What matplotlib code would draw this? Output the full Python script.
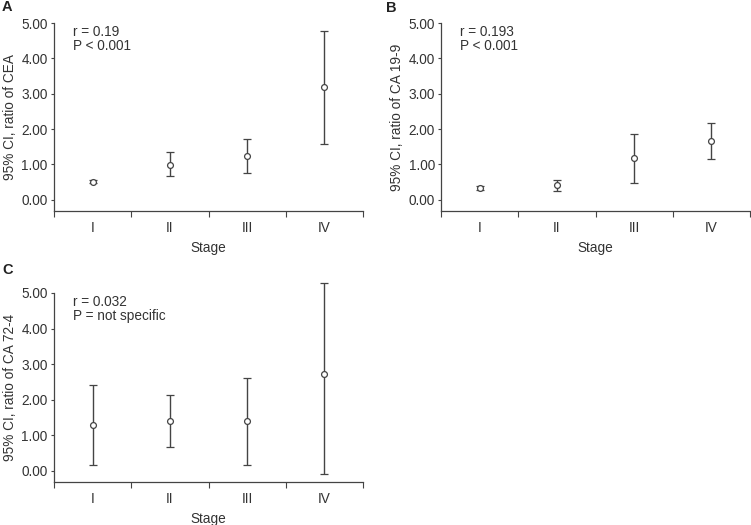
import numpy as np
import matplotlib
matplotlib.use("Agg")
import matplotlib.pyplot as plt

plt.rcParams["font.family"] = ["Liberation Sans", "DejaVu Sans"]

stages = ["I", "II", "III", "IV"]

cea_mean = [0.51, 0.99, 1.23, 3.18]
cea_low = [0.46, 0.66, 0.75, 1.58]
cea_high = [0.55, 1.34, 1.71, 4.77]

ca199_mean = [0.33, 0.42, 1.19, 1.67]
ca199_low = [0.27, 0.26, 0.47, 1.15]
ca199_high = [0.39, 0.55, 1.87, 2.16]

ca724_mean = [1.28, 1.40, 1.40, 2.71]
ca724_low = [0.15, 0.67, 0.15, -0.09]
ca724_high = [2.42, 2.13, 2.62, 5.29]

panels = [
    ("A", "95% CI, ratio of CEA", "r = 0.19\nP < 0.001", cea_mean, cea_low, cea_high),
    ("B", "95% CI, ratio of CA 19-9", "r = 0.193\nP < 0.001", ca199_mean, ca199_low, ca199_high),
    ("C", "95% CI, ratio of CA 72-4", "r = 0.032\nP = not specific", ca724_mean, ca724_low, ca724_high),
]

W, H = 751, 525
boxes = [(54, 23, 363, 211), (441, 23, 750, 211), (54, 293, 363, 482)]
letter_pos = [(2, 0), (386, 1), (2, 263)]

TXT = "#333333"
LINE = "#444444"
FS = 9.8

fig = plt.figure(figsize=(W / 100, H / 100), dpi=100)

for (letter, ylabel, note, mean, low, high), box, lp in zip(panels, boxes, letter_pos):
    x0, y0, x1, y1 = box
    ax = fig.add_axes([x0 / W, 1 - y1 / H, (x1 - x0) / W, (y1 - y0) / H])
    x = np.arange(1, len(stages) + 1)
    mean = np.array(mean)
    err = [mean - np.array(low), np.array(high) - mean]
    ax.errorbar(x, mean, yerr=err, fmt="o", mfc="white", mec=LINE, ms=4.2,
                mew=0.9, ecolor=LINE, elinewidth=1.0, capsize=3.0, capthick=1.0,
                color=LINE, clip_on=False, zorder=3)

    ax.set_xlim(0.5, 4.5)
    ax.set_ylim(-0.32, 5.0)
    ax.set_yticks([0, 1, 2, 3, 4, 5])
    ax.set_yticklabels([f"{v:.2f}" for v in range(6)])
    ax.set_xticks(np.arange(0.5, 5.0, 1.0))
    ax.set_xticklabels([])
    ax.set_xticks(x, minor=True)
    ax.set_xticklabels(stages, minor=True)
    ax.tick_params(axis="x", which="major", length=4, width=0.8, color=LINE, direction="out")
    ax.tick_params(axis="x", which="minor", length=0, pad=7.5, labelsize=FS, labelcolor=TXT)
    ax.tick_params(axis="y", length=2.5, width=0.8, color=LINE, direction="out",
                   labelsize=FS, labelcolor=TXT, pad=2)

    for side in ["top", "right"]:
        ax.spines[side].set_visible(False)
    for side in ["left", "bottom"]:
        ax.spines[side].set_color(LINE)
        ax.spines[side].set_linewidth(0.9)

    ax.set_xlabel("Stage", fontsize=FS, color=TXT, labelpad=4)
    ax.set_ylabel(ylabel, fontsize=FS, color=TXT, labelpad=3)

    ax.text(0.06, 0.99, note, transform=ax.transAxes, fontsize=FS, color=TXT,
            va="top", ha="left", linespacing=1.0)

    fig.text(lp[0] / W, 1 - lp[1] / H, letter, fontsize=10.5, fontweight="bold",
             color="#222222", va="top", ha="left")

fig.savefig("out.png", dpi=100, facecolor="white")
